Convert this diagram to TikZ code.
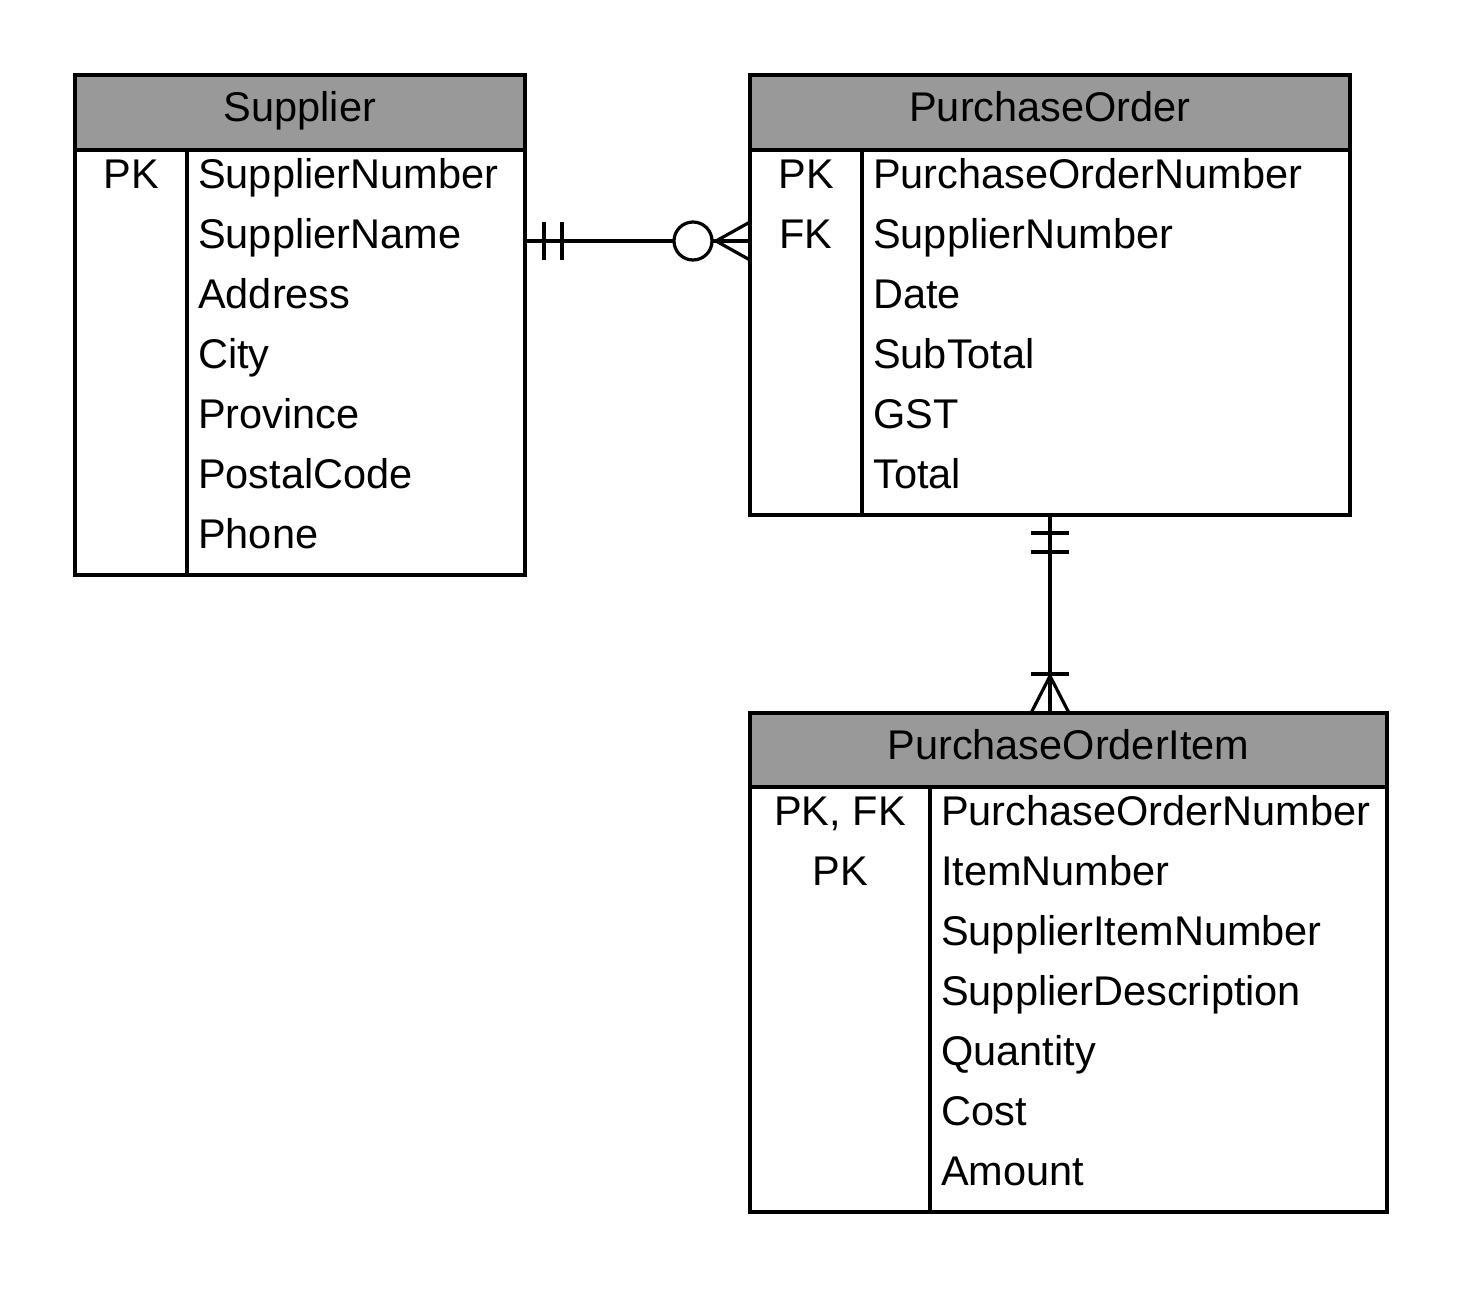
\documentclass[tikz,border=0pt]{standalone}
\usepackage{fontspec}
\setmainfont{Liberation Sans}
\usetikzlibrary{calc}
\definecolor{headgray}{HTML}{999999}
\begin{document}
\begin{tikzpicture}[x=1pt,y=-1pt,
  headbox/.style={draw, line width=3.5pt, fill=headgray, inner sep=0pt, outer sep=0pt},
  bodybox/.style={draw, line width=3.5pt, inner sep=0pt, outer sep=0pt},
  rule/.style={line width=3.5pt},
  conn/.style={line width=3.2pt},
  title/.style={anchor=base, inner sep=0pt, font=\fontsize{41.5}{48}\selectfont},
  keytext/.style={anchor=base, inner sep=0pt, font=\fontsize{41.5}{48}\selectfont},
  fieldtext/.style={anchor=base west, inner sep=0pt, font=\fontsize{41.5}{48}\selectfont}]
\useasboundingbox (0,0) rectangle (1463,1288);

% ---------- Supplier ----------
\node[bodybox, minimum width=450pt, minimum height=500pt] (sup) at (300,325) {};
\node[headbox, minimum width=450pt, minimum height=75pt, anchor=north] (suph) at (sup.north) {};
\draw[rule] ($(suph.south west)+(112,0)$) -- ($(sup.south west)+(112,0)$);
\node[title] (supt) at (300,121) {Supplier};
\node[keytext] (supk1) at (131,188) {PK};
\foreach \t [count=\i] in {SupplierNumber,SupplierName,Address,City,Province,PostalCode,Phone}
  \node[fieldtext] (supf\i) at (198,{188+60*(\i-1)}) {\t};

% ---------- PurchaseOrder ----------
\node[bodybox, minimum width=600pt, minimum height=440pt] (po) at (1050,295) {};
\node[headbox, minimum width=600pt, minimum height=75pt, anchor=north] (poh) at (po.north) {};
\draw[rule] ($(poh.south west)+(112,0)$) -- ($(po.south west)+(112,0)$);
\node[title] (pot) at (1050,121) {PurchaseOrder};
\node[keytext] (pok1) at (806,188) {PK};
\node[keytext] (pok2) at (806,248) {FK};
\foreach \t [count=\i] in {PurchaseOrderNumber,SupplierNumber,Date,SubTotal,GST,Total}
  \node[fieldtext] (pof\i) at (873,{188+60*(\i-1)}) {\t};

% ---------- PurchaseOrderItem ----------
\node[bodybox, minimum width=637pt, minimum height=499pt] (poi) at (1068.5,962.5) {};
\node[headbox, minimum width=637pt, minimum height=74pt, anchor=north] (poih) at (poi.north) {};
\draw[rule] ($(poih.south west)+(180,0)$) -- ($(poi.south west)+(180,0)$);
\node[title] (poit) at (1068.5,759) {PurchaseOrderItem};
\node[keytext] (poik1) at (840,825) {PK, FK};
\node[keytext] (poik2) at (840,885) {PK};
\foreach \t [count=\i] in {PurchaseOrderNumber,ItemNumber,SupplierItemNumber,SupplierDescription,Quantity,Cost,Amount}
  \node[fieldtext] (poif\i) at (941,{825+60*(\i-1)}) {\t};

% ---------- Supplier (one) -- PurchaseOrder (zero or many) ----------
\coordinate (r1a) at ($(sup.north east)+(0,166)$);
\coordinate (r1b) at (r1a -| po.west);
\draw[conn] (r1a) -- ($(r1b)+(-76,0)$);
\draw[conn] ($(r1a)+(19,-19)$) -- ($(r1a)+(19,19)$);
\draw[conn] ($(r1a)+(37,-19)$) -- ($(r1a)+(37,19)$);
\draw[conn] ($(r1b)+(-57,0)$) circle (19pt);
\draw[conn] ($(r1b)+(-38,0)$) -- (r1b);
\draw[conn] ($(r1b)+(0,-19)$) -- ($(r1b)+(-34,0)$) -- ($(r1b)+(0,19)$);

% ---------- PurchaseOrder (one) -- PurchaseOrderItem (one or many) ----------
\coordinate (r2a) at (po.south);
\coordinate (r2b) at (r2a |- poi.north);
\draw[conn] (r2a) -- (r2b);
\draw[conn] ($(r2a)+(-19,18)$) -- ($(r2a)+(19,18)$);
\draw[conn] ($(r2a)+(-19,37)$) -- ($(r2a)+(19,37)$);
\draw[conn] ($(r2b)+(-19,-39)$) -- ($(r2b)+(19,-39)$);
\draw[conn] ($(r2b)+(-19,0)$) -- ($(r2b)+(0,-37)$) -- ($(r2b)+(19,0)$);
\end{tikzpicture}
\end{document}
